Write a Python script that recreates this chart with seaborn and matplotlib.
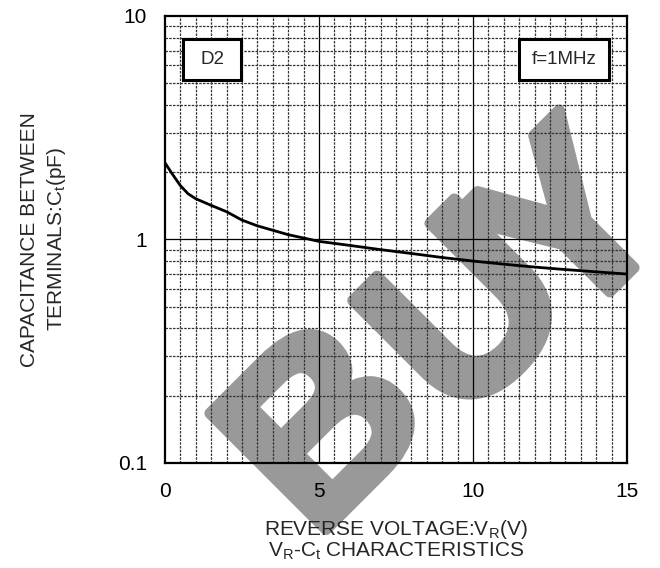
import numpy as np
import pandas as pd
import matplotlib
matplotlib.use("Agg")
import matplotlib.pyplot as plt
from matplotlib.patches import Rectangle
from matplotlib.ticker import FixedLocator, NullFormatter
import matplotlib.patheffects as pe
import seaborn as sns

# ---- data ----
vr = [0, 0.25, 0.5, 0.75, 1.0, 1.5, 2, 2.5, 3, 4, 5, 6, 7, 8, 9, 10, 11, 12, 13, 14, 15]
ct = [2.2, 1.95, 1.74, 1.6, 1.52, 1.42, 1.33, 1.22, 1.15, 1.05, 0.98, 0.94, 0.90, 0.865,
      0.83, 0.80, 0.775, 0.752, 0.733, 0.716, 0.70]
x_ticks = [0, 5, 10, 15]
y_ticks = [0.1, 1, 10]
y_tick_labels = ["0.1", "1", "10"]
box_left = "D2"
box_right = "f=1MHz"
watermark_letters = ["B", "U", "Y"]

sns.set_theme(style="white")
plt.rcParams["font.family"] = ["Liberation Sans", "DejaVu Sans"]
plt.rcParams["mathtext.fontset"] = "custom"
plt.rcParams["mathtext.rm"] = "Liberation Sans"
plt.rcParams["mathtext.it"] = "Liberation Sans"
plt.rcParams["mathtext.default"] = "regular"

W, H = 660, 568
fig = plt.figure(figsize=(6.6, 5.68), dpi=100)
ax = fig.add_axes([0.25, 0.185, 0.70, 0.787])
ax.patch.set_facecolor("none")

df = pd.DataFrame({"vr": vr, "ct": ct})
sns.lineplot(data=df, x="vr", y="ct", ax=ax, color="black", linewidth=2.0, zorder=5)

ax.set_yscale("log")
ax.set_xlim(0, 15)
ax.set_ylim(0.1, 10)

# grid: minor dashed, major solid
xminor = [v for v in np.arange(0.5, 15, 0.5) if v % 5 != 0]
yminor = [m * 10.0 ** e for e in (-1, 0) for m in range(2, 10)]
for xv in xminor:
    ax.axvline(xv, color="#333333", lw=0.9, ls=(0, (2, 1)), zorder=1)
for xv in [5, 10]:
    ax.axvline(xv, color="black", lw=0.9, zorder=1)
for yv in yminor:
    ax.axhline(yv, color="#333333", lw=0.9, ls=(0, (2, 1)), zorder=1)
ax.axhline(1, color="black", lw=0.9, zorder=1)

ax.set_xticks(x_ticks)
ax.set_xticklabels([str(t) for t in x_ticks])
ax.yaxis.set_major_locator(FixedLocator(y_ticks))
ax.set_yticklabels(y_tick_labels)
ax.yaxis.set_minor_formatter(NullFormatter())
ax.tick_params(axis="both", which="both", length=0, labelsize=15, colors="black")
ax.tick_params(axis="x", pad=14)
ax.tick_params(axis="y", pad=13)

for sp in ax.spines.values():
    sp.set_visible(True)
    sp.set_color("black")
    sp.set_linewidth(1.6)

ax.set_xlabel("REVERSE VOLTAGE:V$_R$(V)\nV$_R$-C$_t$ CHARACTERISTICS", fontsize=15,
              labelpad=12, linespacing=0.95)
ax.set_ylabel("CAPACITANCE BETWEEN\nTERMINALS:C$_t$(pF)", fontsize=15,
              labelpad=36, linespacing=1.35)

# labelled boxes
for (x0, x1, txt) in [(0.039, 0.1645, box_left), (0.766, 0.961, box_right)]:
    ax.add_patch(Rectangle((x0, 0.857), x1 - x0, 0.0915, transform=ax.transAxes,
                           facecolor="white", edgecolor="black", lw=2.2, zorder=6))
    ax.text((x0 + x1) / 2, 0.857 + 0.0915 / 2, txt, transform=ax.transAxes,
            ha="center", va="center", fontsize=13.5, zorder=7)

# watermark (behind the axes)
wm_pos = [(332, 436), (476, 322), (578, 236)]
for letter, (px, py) in zip(watermark_letters, wm_pos):
    fig.text(px / W, 1 - py / H, letter, fontsize=172, fontweight="bold",
             color="#999999", rotation=45, ha="center", va="center", zorder=-1,
             path_effects=[pe.withStroke(linewidth=8, foreground="#999999")])

fig.savefig("out.png", dpi=100)
